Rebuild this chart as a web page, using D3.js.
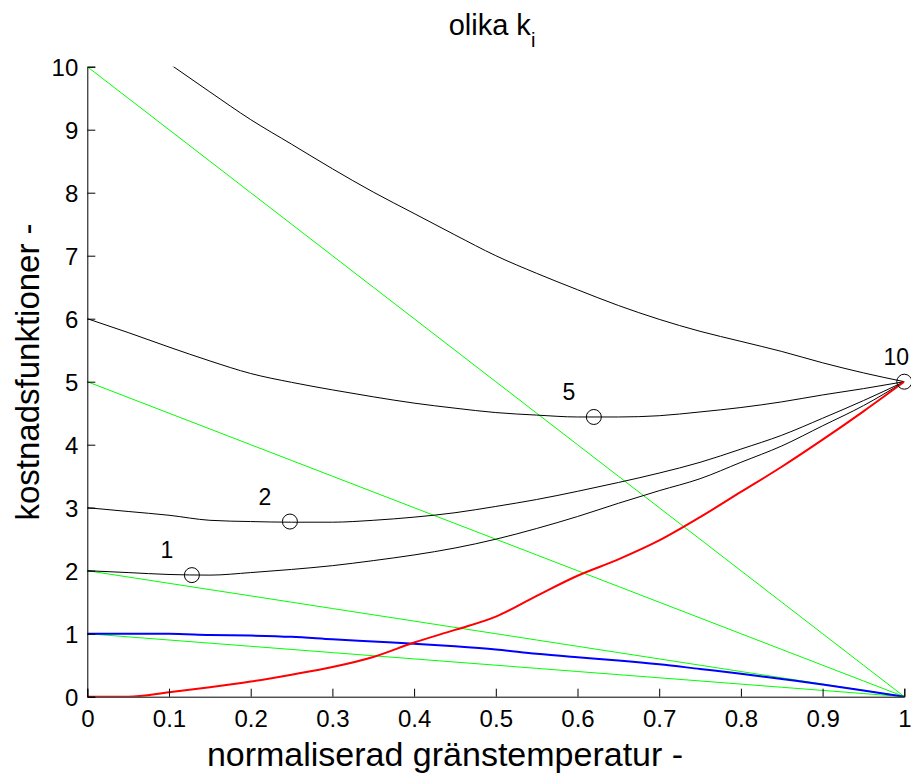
<!DOCTYPE html>
<html>
<head>
<meta charset="utf-8">
<script src="https://cdn.jsdelivr.net/npm/d3@7/dist/d3.min.js"></script>
<style>
  html, body { margin: 0; padding: 0; background: #fff; }
  svg text { font-family: "Liberation Sans", Arial, Helvetica, sans-serif; fill: #000; }
</style>
</head>
<body>
<svg id="chart" width="911" height="774"></svg>
<script>
// Normalised limit temperature (x grid shared by all curves)
const xs = [0, 0.05, 0.1, 0.15, 0.2, 0.25, 0.3, 0.35, 0.4, 0.45, 0.5,
            0.55, 0.6, 0.65, 0.7, 0.75, 0.8, 0.85, 0.9, 0.95, 1.0];

// Weighted term for each k (green)
const green1  = [1.0, 0.95, 0.9, 0.85, 0.8, 0.75, 0.7, 0.65, 0.6, 0.55, 0.5, 0.45, 0.4, 0.35, 0.3, 0.25, 0.2, 0.15, 0.1, 0.05, 0];
const green2  = [2.0, 1.9, 1.8, 1.7, 1.6, 1.5, 1.4, 1.3, 1.2, 1.1, 1.0, 0.9, 0.8, 0.7, 0.6, 0.5, 0.4, 0.3, 0.2, 0.1, 0];
const green5  = [5.0, 4.75, 4.5, 4.25, 4.0, 3.75, 3.5, 3.25, 3.0, 2.75, 2.5, 2.25, 2.0, 1.75, 1.5, 1.25, 1.0, 0.75, 0.5, 0.25, 0];
const green10 = [10.0, 9.5, 9.0, 8.5, 8.0, 7.5, 7.0, 6.5, 6.0, 5.5, 5.0, 4.5, 4.0, 3.5, 3.0, 2.5, 2.0, 1.5, 1.0, 0.5, 0];

// Falling term (blue) and rising term (red)
const blueVals = [1.0, 1.0, 1.0, 0.98, 0.97, 0.95, 0.91, 0.875, 0.84, 0.80, 0.75,
                  0.68, 0.625, 0.575, 0.515, 0.44, 0.365, 0.28, 0.195, 0.10, 0];
const redVals  = [0, 0, 0.07, 0.15, 0.24, 0.35, 0.47, 0.63, 0.86, 1.06, 1.27,
                  1.60, 1.92, 2.18, 2.48, 2.85, 3.25, 3.65, 4.08, 4.53, 5.0];

// Total cost functions (black) for k = 1, 2, 5, 10
const black1  = [2.0, 1.97, 1.94, 1.93, 1.97, 2.02, 2.08, 2.16, 2.25, 2.36, 2.50,
                 2.67, 2.86, 3.07, 3.27, 3.46, 3.72, 3.98, 4.30, 4.62, 5.0];
const black2  = [3.0, 2.94, 2.88, 2.80, 2.78, 2.77, 2.77, 2.80, 2.85, 2.92, 3.02,
                 3.13, 3.26, 3.40, 3.55, 3.72, 3.93, 4.15, 4.42, 4.70, 5.0];
const black5  = [6.0, 5.78, 5.55, 5.33, 5.13, 4.99, 4.87, 4.76, 4.66, 4.58, 4.51,
                 4.47, 4.44, 4.44, 4.46, 4.52, 4.59, 4.68, 4.79, 4.89, 5.0];
const black10 = [11.0, 10.5, 10.05, 9.6, 9.16, 8.77, 8.38, 8.01, 7.67, 7.33, 7.0,
                 6.72, 6.46, 6.21, 5.99, 5.80, 5.64, 5.48, 5.30, 5.14, 5.0];

// Minimum of each cost function and its k label
const minK = ["1", "2", "5", "10"];
const minX = [0.128, 0.248, 0.62, 1.0];
const minY = [1.93, 2.78, 4.44, 5.0];

const xTicks = [0, 0.1, 0.2, 0.3, 0.4, 0.5, 0.6, 0.7, 0.8, 0.9, 1];
const yTicks = [0, 1, 2, 3, 4, 5, 6, 7, 8, 9, 10];

const svg = d3.select("#chart");
const x = d3.scaleLinear().domain([0, 1]).range([87.3, 904.3]);
const y = d3.scaleLinear().domain([0, 10]).range([696.7, 66.7]);

svg.append("defs").append("clipPath").attr("id", "plotClip")
  .append("rect")
  .attr("x", x(0)).attr("y", y(10))
  .attr("width", x(1) - x(0)).attr("height", y(0) - y(10));

const straight = d3.line().x((d, i) => x(xs[i])).y(d => y(d));
const smooth = d3.line().x((d, i) => x(xs[i])).y(d => y(d)).curve(d3.curveMonotoneX);

const plot = svg.append("g").attr("clip-path", "url(#plotClip)");

function drawSeries(vals, color, width, gen) {
  plot.append("path")
    .datum(vals)
    .attr("d", gen)
    .attr("fill", "none")
    .attr("stroke", color)
    .attr("stroke-width", width)
    .attr("stroke-linejoin", "round");
}

[green1, green2, green5, green10].forEach(s => drawSeries(s, "#00ff00", 1, straight));
[black1, black2, black5, black10].forEach(s => drawSeries(s, "#000000", 1, smooth));
drawSeries(blueVals, "#0000ff", 2, smooth);
drawSeries(redVals, "#ff0000", 2, smooth);

// Minimum markers
svg.append("g").selectAll("circle")
  .data(minK)
  .join("circle")
  .attr("cx", (d, i) => x(minX[i]))
  .attr("cy", (d, i) => y(minY[i]))
  .attr("r", 7.5)
  .attr("fill", "none")
  .attr("stroke", "#000")
  .attr("stroke-width", 1);

// k labels next to the markers
svg.append("g").selectAll("text")
  .data(minK)
  .join("text")
  .attr("x", (d, i) => x(minX[i]) - (d === "10" ? 8 : 25))
  .attr("y", (d, i) => y(minY[i]) - 17)
  .attr("text-anchor", "middle")
  .attr("font-size", 23)
  .text(d => d);

// Axes (left and bottom only, ticks pointing inward)
const xAxis = d3.axisBottom(x).tickValues(xTicks).tickSize(-8).tickPadding(13)
  .tickFormat(d => d3.format("")(d));
const yAxis = d3.axisLeft(y).tickValues(yTicks).tickSize(-8).tickPadding(9);

const gx = svg.append("g").attr("transform", `translate(0,${y(0)})`).call(xAxis);
const gy = svg.append("g").attr("transform", `translate(${x(0)},0)`).call(yAxis);

[gx, gy].forEach(g => {
  g.select(".domain").attr("stroke", "#000").attr("stroke-width", 1);
  g.selectAll(".tick line").attr("stroke", "#000").attr("stroke-width", 1);
  g.selectAll(".tick text")
    .attr("font-family", "Liberation Sans, Arial, sans-serif")
    .attr("font-size", 24)
    .attr("fill", "#000");
});
gy.selectAll(".tick text").attr("dy", "0.36em");

// Title with subscript
const title = svg.append("text")
  .attr("x", 492).attr("y", 35)
  .attr("text-anchor", "middle")
  .attr("font-size", 29);
title.append("tspan").text("olika k");
title.append("tspan").attr("dy", 12).attr("font-size", 20).text("i");

// Axis labels
svg.append("text")
  .attr("x", 445).attr("y", 766)
  .attr("text-anchor", "middle")
  .attr("font-size", 34)
  .text("normaliserad gränstemperatur -");

svg.append("text")
  .attr("transform", "translate(39,372) rotate(-90)")
  .attr("text-anchor", "middle")
  .attr("font-size", 33)
  .text("kostnadsfunktioner -");
</script>
</body>
</html>
